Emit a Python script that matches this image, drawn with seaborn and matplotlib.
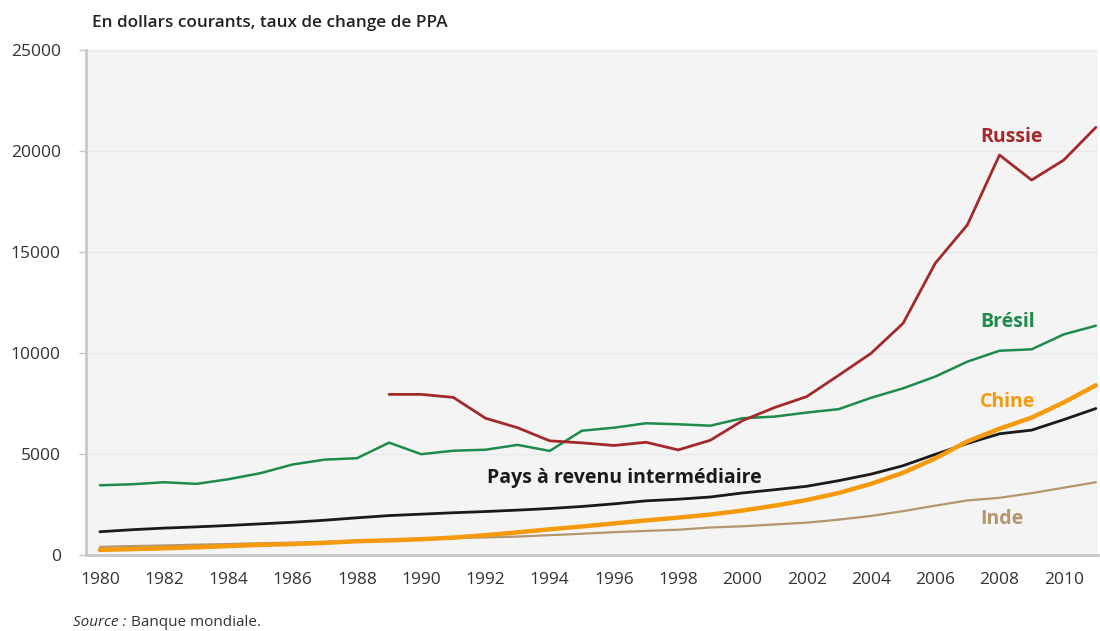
import numpy as np
import pandas as pd
import matplotlib
matplotlib.use("Agg")
import matplotlib.pyplot as plt
import seaborn as sns

# data (PIB par habitant, dollars courants PPA)
years = list(range(1980, 2012))

russie = [np.nan] * 9 + [7950, 7950, 7800, 6770, 6300, 5650, 5550, 5420, 5580, 5200,
                         5680, 6650, 7300, 7840, 8900, 9980, 11470, 14440, 16340, 19800,
                         18560, 19550, 21170]
bresil = [3450, 3500, 3600, 3520, 3750, 4050, 4480, 4720, 4790, 5560,
          4990, 5160, 5210, 5450, 5150, 6150, 6300, 6520, 6470, 6400,
          6770, 6850, 7050, 7220, 7780, 8250, 8830, 9570, 10110, 10180,
          10920, 11350]
pays_inter = [1150, 1250, 1330, 1390, 1460, 1540, 1620, 1720, 1840, 1950,
              2020, 2090, 2150, 2220, 2300, 2400, 2530, 2680, 2760, 2870,
              3070, 3230, 3400, 3680, 4000, 4420, 4980, 5520, 6000, 6180,
              6700, 7250]
chine = [250, 290, 330, 380, 440, 500, 540, 600, 680, 720,
         780, 860, 980, 1120, 1270, 1410, 1560, 1710, 1850, 2000,
         2200, 2440, 2720, 3070, 3520, 4070, 4780, 5620, 6250, 6800,
         7550, 8400]
inde = [400, 440, 470, 510, 540, 580, 610, 650, 710, 760,
        810, 830, 870, 910, 980, 1050, 1130, 1190, 1250, 1360,
        1420, 1510, 1600, 1750, 1930, 2170, 2440, 2700, 2830, 3060,
        3330, 3600]

y_ticks = [0, 5000, 10000, 15000, 20000, 25000]
x_labels = list(range(1980, 2011, 2))

sns.set_theme(style="white")
plt.rcParams['font.family'] = ['Open Sans', 'DejaVu Sans']

df = pd.DataFrame({"annee": years, "Russie": russie, "Brésil": bresil,
                   "Pays à revenu intermédiaire": pays_inter,
                   "Chine": chine, "Inde": inde})

fig = plt.figure(figsize=(11, 6.31), dpi=100)
ax = fig.add_axes([0.078, 0.1205, 0.92, 0.8003])
ax.set_facecolor("#f4f4f4")

# series: (column, colour, line width)
styles = [("Inde", "#b4966e", 1.6),
          ("Pays à revenu intermédiaire", "#1a1a1a", 2.0),
          ("Chine", "#f59a0c", 3.2),
          ("Brésil", "#1e8a4c", 1.8),
          ("Russie", "#a3292b", 2.0)]
for name, col, lw in styles:
    sns.lineplot(data=df, x="annee", y=name, color=col, linewidth=lw, ax=ax)

ax.set_xlim(1979.56, 2011.06)
ax.set_ylim(0, 25000)
ax.set_xlabel("")
ax.set_ylabel("")

# gridlines
ax.set_yticks(y_ticks)
ax.set_yticklabels([str(v) for v in y_ticks])
ax.grid(axis="y", color="#e9e9e9", linewidth=1)
ax.set_axisbelow(True)

# x ticks between years, labels on the years
ax.set_xticks(np.arange(1981.5, 2010, 2))
ax.set_xticklabels([])
ax.set_xticks(x_labels, minor=True)
ax.set_xticklabels([str(v) for v in x_labels], minor=True)
ax.tick_params(axis="x", which="major", length=5, width=1, color="#c4c4c4", direction="out")
ax.tick_params(axis="x", which="minor", length=0, pad=12, labelsize=12.5, labelcolor="#333333")
ax.tick_params(axis="y", length=5, width=1, color="#c4c4c4", pad=13, labelsize=12.5,
               labelcolor="#333333", left=True)

for s in ["top", "right"]:
    ax.spines[s].set_visible(False)
for s in ["left", "bottom"]:
    ax.spines[s].set_color("#c8c8c8")
    ax.spines[s].set_linewidth(2)

# direct labels
lab_kw = dict(fontsize=14, fontweight="bold", ha="left", va="center")
ax.text(2007.4, 20700, "Russie", color="#a3292b", **lab_kw)
ax.text(2007.4, 11550, "Brésil", color="#1e8a4c", **lab_kw)
ax.text(2007.4, 7580, "Chine", color="#f59a0c", **lab_kw)
ax.text(2007.4, 1780, "Inde", color="#b4966e", **lab_kw)
ax.text(1992.05, 3800, "Pays à revenu intermédiaire", color="#1a1a1a", **lab_kw)

fig.text(0.084, 0.963, "En dollars courants, taux de change de PPA", fontsize=12.3,
         fontweight="semibold", color="#222222", ha="left", va="center")
fig.text(0.066, 0.014, "Source :", fontsize=11, style="italic", color="#333333",
         ha="left", va="center")
fig.text(0.119, 0.014, "Banque mondiale.", fontsize=11, color="#333333",
         ha="left", va="center")

fig.savefig("out.png", dpi=100)
